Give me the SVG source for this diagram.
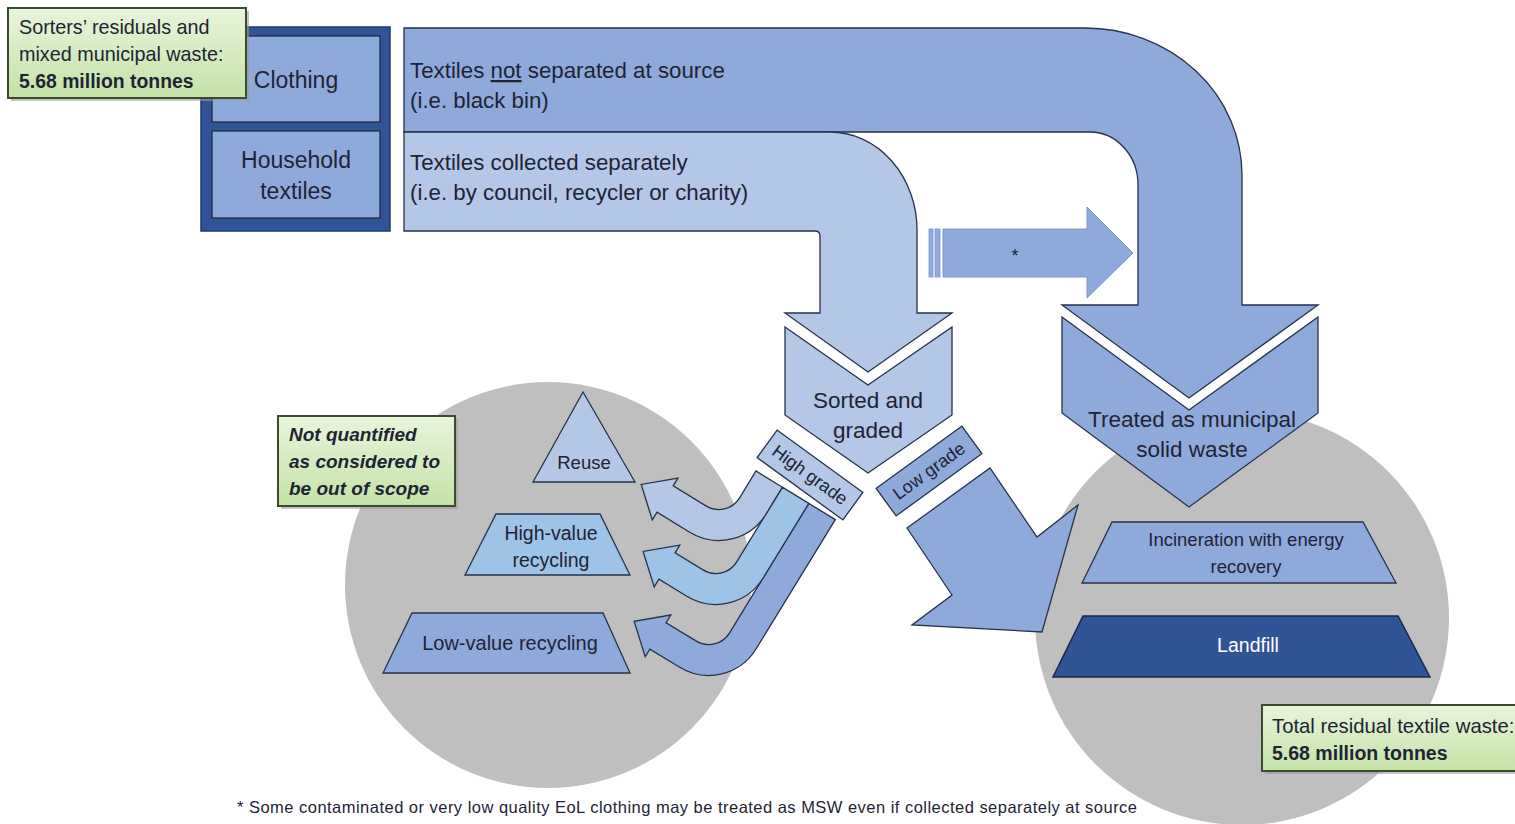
<svg xmlns="http://www.w3.org/2000/svg" width="1515" height="824" viewBox="0 0 1515 824">
<defs>
<linearGradient id="gg" x1="0" y1="0" x2="0" y2="1">
<stop offset="0" stop-color="#e8f5db"/>
<stop offset="1" stop-color="#c4e2a6"/>
</linearGradient>
<style>
text{font-family:"Liberation Sans",Arial,sans-serif;fill:#1e2433}
.ol{stroke:#26324a;stroke-width:1.3;stroke-linejoin:miter}
.mid{fill:#8eaadb}
.lt{fill:#b4c7e7}
.sky{fill:#9dc3e6}
.dk{fill:#2f5597}
.grey{fill:#bfbfbf}
.gbox{fill:url(#gg);stroke:#3c4a30;stroke-width:2}
.shadow{fill:#9a9a9a;opacity:0.6}
.c{text-anchor:middle}
</style>
</defs>
<rect width="1515" height="824" fill="#ffffff"/>

<g id="circles">
<circle class="grey" cx="548" cy="585" r="203"/>
<circle class="grey" cx="1242" cy="618" r="207"/>
</g>

<g id="connectors">
<!-- top band: not separated -->
<path class="mid ol" d="M404,28 L1085,28 A157,147 0 0 1 1242,175 L1242,305 L1318,305 L1189,398 L1062,305 L1138,305 L1138,185 A48,53 0 0 0 1090,132 L404,132 Z"/>
<!-- light band: collected separately -->
<path class="lt ol" d="M404,132 L830,132 A87,98 0 0 1 917,230 L917,313 L952,313 L868,372 L785,313 L820,313 L820,236 Q820,231 815,231 L404,231 Z"/>
<!-- star arrow -->
<g id="star-arrow">
<rect x="929" y="229" width="4" height="48" fill="#8eaadb" stroke="#7d98cc" stroke-width="0.8"/>
<rect x="935" y="229" width="5" height="48" fill="#8eaadb" stroke="#7d98cc" stroke-width="0.8"/>
<path d="M943,229 L1087,229 L1087,207 L1133,253 L1087,298 L1087,277 L943,277 Z" fill="#8eaadb" stroke="#7d98cc" stroke-width="1"/>
<text x="1015" y="262" class="c" font-size="18">*</text>
</g>
<!-- high grade U arrows -->
<g id="high-grade-arrows" transform="translate(3,-4)">
<path class="mid ol" d="M832.3,523.6 L805.8,507.4 L726.6,636.8 A24.5,24.5 0 0 1 692.9,644.9 L663.1,626.7 L667.8,619.0 L631.1,625.3 L642.2,660.8 L646.9,653.1 L676.7,671.3 A55.5,55.5 0 0 0 753.0,653.0 Z"/>
<path class="sky ol" d="M805.8,507.4 L779.4,491.2 L733.7,565.8 A24.5,24.5 0 0 1 700.0,573.9 L672.1,556.8 L676.8,549.1 L640.1,555.4 L651.2,590.9 L655.9,583.2 L683.8,600.3 A55.5,55.5 0 0 0 760.1,582.0 Z"/>
<path class="lt ol" d="M779.4,491.2 L753.0,475.0 L736.6,501.8 A24.5,24.5 0 0 1 702.9,509.9 L670.2,489.8 L674.9,482.1 L638.2,488.4 L649.3,523.9 L654.0,516.2 L686.7,536.3 A55.5,55.5 0 0 0 763.0,518.0 Z"/>
</g>
<!-- low grade arrow -->
<path class="mid ol" d="M907,528 L990,468 L1037,537 L1078,505 L1042,632 L912,625 L952,595 Z"/>
</g>

<g id="sources">
<rect x="201" y="27" width="189" height="204" fill="#2f5597" stroke="#1f3a6e" stroke-width="1.5"/>
<g id="clothing">
<rect x="212" y="36" width="168" height="86" class="mid" stroke="#1f2a44" stroke-width="1.3"/>
<text x="296" y="88" class="c" font-size="23">Clothing</text>
</g>
<g id="household">
<rect x="212" y="131" width="168" height="87" class="mid" stroke="#1f2a44" stroke-width="1.3"/>
<text x="296" y="168" class="c" font-size="23">Household</text>
<text x="296" y="199" class="c" font-size="23">textiles</text>
</g>
</g>

<g id="band-labels">
<text x="410" y="78" font-size="22.3">Textiles <tspan text-decoration="underline">not</tspan> separated at source</text>
<text x="410" y="108" font-size="22.3">(i.e. black bin)</text>
<text x="410" y="170" font-size="22.3">Textiles collected separately</text>
<text x="410" y="200" font-size="22.3">(i.e. by council, recycler or charity)</text>
</g>

<g id="sorted">
<path class="lt ol" d="M785,327 L868,385 L952,327 L952,415 L868,473 L785,415 Z"/>
<text x="868" y="408" class="c" font-size="22.5">Sorted and</text>
<text x="868" y="438" class="c" font-size="22.5">graded</text>
</g>

<g id="high-grade" transform="translate(810,475) rotate(36)">
<rect x="-53" y="-17" width="106" height="34" class="lt ol"/>
<text x="0" y="6" class="c" font-size="18">High grade</text>
</g>
<g id="low-grade" transform="translate(929,471) rotate(-36)">
<rect x="-53" y="-17" width="106" height="34" class="mid ol"/>
<text x="0" y="6" class="c" font-size="18">Low grade</text>
</g>

<g id="msw">
<path class="mid ol" d="M1062,317 L1189,410 L1318,317 L1318,413 L1189,507 L1062,413 Z"/>
<text x="1192" y="427" class="c" font-size="22.5">Treated as municipal</text>
<text x="1192" y="457" class="c" font-size="22.5">solid waste</text>
</g>

<g id="reuse">
<path class="lt ol" d="M583,392 L635,482 L533,482 Z"/>
<text x="584" y="469" class="c" font-size="18.5">Reuse</text>
</g>
<g id="high-value">
<path class="sky ol" d="M496,514 L600,514 L630,575 L465,575 Z"/>
<text x="551" y="540" class="c" font-size="19.5">High-value</text>
<text x="551" y="567" class="c" font-size="19.5">recycling</text>
</g>
<g id="low-value">
<path class="mid ol" d="M412,613 L603,613 L630,673 L383,673 Z"/>
<text x="510" y="650" class="c" font-size="20">Low-value recycling</text>
</g>

<g id="incineration">
<path class="mid ol" d="M1112,522 L1363,522 L1396,583 L1082,583 Z"/>
<text x="1246" y="546" class="c" font-size="18.5">Incineration with energy</text>
<text x="1246" y="573" class="c" font-size="18.5">recovery</text>
</g>
<g id="landfill">
<path class="dk" stroke="#1a2a4a" stroke-width="1.5" d="M1083,616 L1398,616 L1430,677 L1053,677 Z"/>
<text x="1248" y="652" class="c" font-size="19.5" style="fill:#ffffff">Landfill</text>
</g>

<g id="note-sorters">
<rect x="11" y="11" width="238" height="90" class="shadow"/>
<rect x="8" y="8" width="238" height="90" class="gbox"/>
<text x="19" y="34" font-size="19.8">Sorters’ residuals and</text>
<text x="19" y="61" font-size="19.8">mixed municipal waste:</text>
<text x="19" y="88" font-size="19.4" font-weight="bold">5.68 million tonnes</text>
</g>

<g id="note-scope">
<rect x="281" y="419" width="177" height="90" class="shadow"/>
<rect x="278" y="416" width="177" height="90" class="gbox"/>
<text x="289" y="441" font-size="19" font-weight="bold" font-style="italic">Not quantified</text>
<text x="289" y="468" font-size="19" font-weight="bold" font-style="italic">as considered to</text>
<text x="289" y="495" font-size="19" font-weight="bold" font-style="italic">be out of scope</text>
</g>

<g id="note-total">
<rect x="1265" y="708" width="260" height="66" class="shadow"/>
<rect x="1262" y="705" width="260" height="66" class="gbox"/>
<text x="1272" y="733" font-size="20.3">Total residual textile waste:</text>
<text x="1272" y="760" font-size="19.5" font-weight="bold">5.68 million tonnes</text>
</g>

<text x="237" y="813" font-size="16.5" textLength="900" lengthAdjust="spacing">* Some contaminated or very low quality EoL clothing may be treated as MSW even if collected separately at source</text>
</svg>
